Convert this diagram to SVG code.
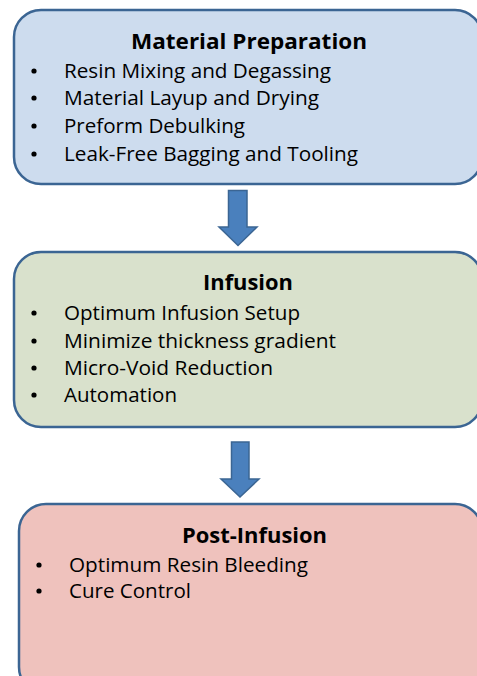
<svg xmlns="http://www.w3.org/2000/svg" width="477" height="676" viewBox="0 0 477 676">
<style>
.box{stroke:#3b6593;stroke-width:2.5}
.t{font-family:"Open Sans","Noto Sans",sans-serif;font-size:19.5px;fill:#000}
.h{font-family:"Open Sans","Noto Sans",sans-serif;font-size:21.5px;font-weight:bold;fill:#000}
.arr{fill:#4a80bd;stroke:#3b6593;stroke-width:1.5}
.dot{fill:#000}
</style>
<rect width="477" height="676" fill="#fff"/>
<g id="material-preparation">
<rect class="box" x="14" y="10" width="468" height="174" rx="27" fill="#cddcee"/>
<text class="h" x="131" y="49" textLength="236" lengthAdjust="spacingAndGlyphs">Material Preparation</text>
<circle class="dot" cx="34" cy="71" r="2.6"/><text class="t" x="64" y="78" textLength="267" lengthAdjust="spacingAndGlyphs">Resin Mixing and Degassing</text>
<circle class="dot" cx="34" cy="98" r="2.6"/><text class="t" x="64" y="105" textLength="255" lengthAdjust="spacingAndGlyphs">Material Layup and Drying</text>
<circle class="dot" cx="34" cy="126" r="2.6"/><text class="t" x="64" y="133" textLength="181" lengthAdjust="spacingAndGlyphs">Preform Debulking</text>
<circle class="dot" cx="34" cy="154" r="2.6"/><text class="t" x="64" y="161" textLength="294" lengthAdjust="spacingAndGlyphs">Leak-Free Bagging and Tooling</text>
</g>
<g id="infusion">
<rect class="box" x="14" y="252" width="468" height="175" rx="27" fill="#d9e1cc"/>
<text class="h" x="203" y="290" textLength="90" lengthAdjust="spacingAndGlyphs">Infusion</text>
<circle class="dot" cx="34" cy="313" r="2.6"/><text class="t" x="64" y="320" textLength="236" lengthAdjust="spacingAndGlyphs">Optimum Infusion Setup</text>
<circle class="dot" cx="34" cy="341" r="2.6"/><text class="t" x="64" y="348" textLength="272" lengthAdjust="spacingAndGlyphs">Minimize thickness gradient</text>
<circle class="dot" cx="34" cy="368" r="2.6"/><text class="t" x="64" y="375" textLength="209" lengthAdjust="spacingAndGlyphs">Micro-Void Reduction</text>
<circle class="dot" cx="34" cy="395" r="2.6"/><text class="t" x="64" y="402" textLength="113" lengthAdjust="spacingAndGlyphs">Automation</text>
</g>
<g id="post-infusion">
<rect class="box" x="19" y="504" width="463" height="190" rx="27" fill="#efc2bd"/>
<text class="h" x="182" y="543" textLength="145" lengthAdjust="spacingAndGlyphs">Post-Infusion</text>
<circle class="dot" cx="39" cy="565" r="2.6"/><text class="t" x="69" y="572" textLength="239" lengthAdjust="spacingAndGlyphs">Optimum Resin Bleeding</text>
<circle class="dot" cx="39" cy="591" r="2.6"/><text class="t" x="69" y="598" textLength="122" lengthAdjust="spacingAndGlyphs">Cure Control</text>
</g>
<g id="connectors">
<path class="arr" d="M228.5,190.5 H247 V227 H257 L238,245.5 L219,227 H228.5 Z"/>
<path class="arr" d="M231.5,442 H249 V479 H259 L240,497 L221,479 H231.5 Z"/>
</g>
</svg>
